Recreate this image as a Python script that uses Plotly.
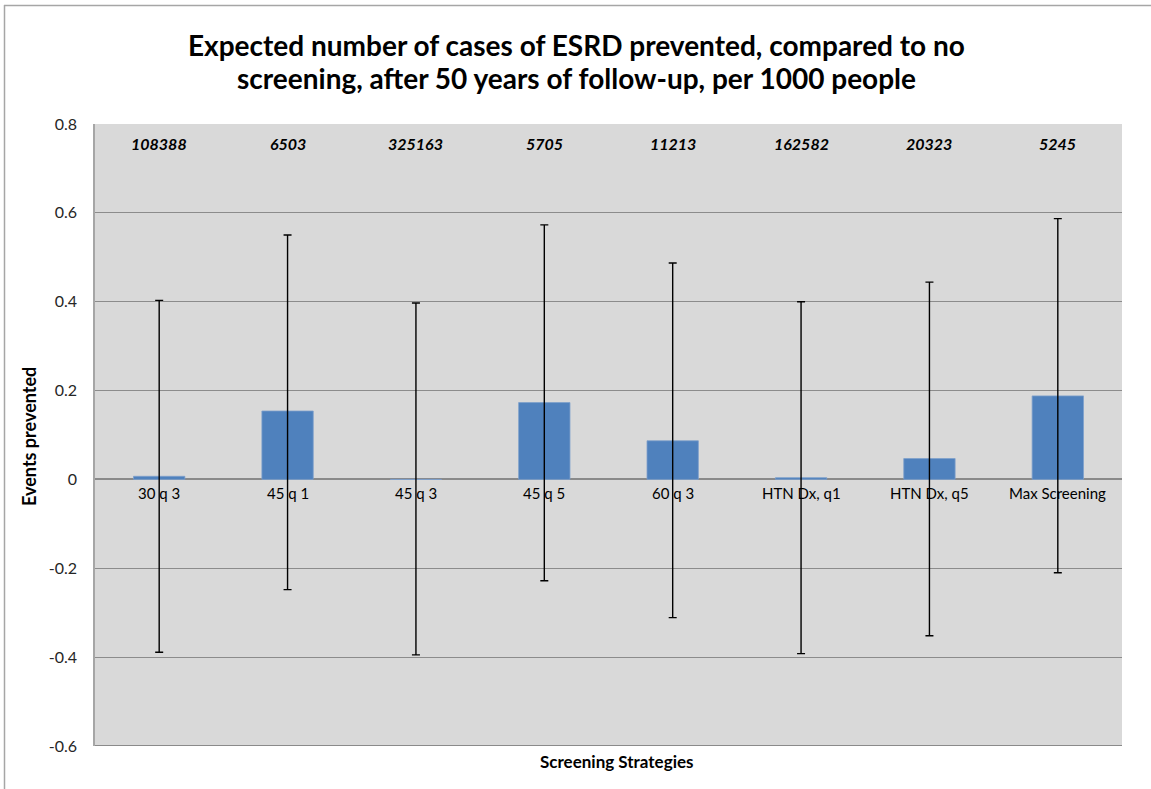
import plotly.graph_objects as go

# Screening strategies and their expected ESRD cases prevented (per 1000 people)
strategies = ["30 q 3", "45 q 1", "45 q 3", "45 q 5", "60 q 3",
              "HTN Dx, q1", "HTN Dx, q5", "Max Screening"]
prevented = [0.007, 0.154, 0.0, 0.173, 0.087, 0.004, 0.047, 0.188]
upper_bound = [0.403, 0.550, 0.397, 0.573, 0.487, 0.400, 0.444, 0.587]
lower_bound = [-0.389, -0.248, -0.395, -0.228, -0.311, -0.392, -0.352, -0.210]
count_labels = ["108388", "6503", "325163", "5705", "11213", "162582", "20323", "5245"]
y_ticks = [-0.6, -0.4, -0.2, 0.0, 0.2, 0.4, 0.6, 0.8]
y_tick_text = ["-0.6", "-0.4", "-0.2", "0", "0.2", "0.4", "0.6", "0.8"]
title_lines = ["Expected number of cases of ESRD prevented, compared to no",
               "screening, after 50 years of follow-up, per 1000 people"]

W, H = 1151, 789
ML, MR, MT, MB = 95, 29, 124, 43
PW, PH = W - ML - MR, H - MT - MB

def px_x(px):
    return (px - ML) / PW

def px_y(py):
    return (H - MB - py) / PH

FONT = "Lato"

err_plus = [u - v for u, v in zip(upper_bound, prevented)]
err_minus = [v - l for v, l in zip(prevented, lower_bound)]

fig = go.Figure()
fig.add_trace(go.Bar(
    x=strategies,
    y=prevented,
    marker=dict(color="#4F81BD", line=dict(color="#7E9FCB", width=0.8)),
    error_y=dict(type="data", symmetric=False, array=err_plus, arrayminus=err_minus,
                 color="#000000", thickness=1.4, width=4),
    hoverinfo="skip",
))

annotations = []
# category names just below the zero line
for s in strategies:
    annotations.append(dict(x=s, y=0, xref="x", yref="y", text=s, showarrow=False,
                            yanchor="top", yshift=-3,
                            font=dict(family=FONT, size=15, color="#000000")))
# counts across the top of the plot
for s, c in zip(strategies, count_labels):
    annotations.append(dict(x=s, y=0.8, xref="x", yref="y", text=f"<b><i>{c}</i></b>",
                            showarrow=False, yanchor="top", yshift=-8,
                            font=dict(family=FONT, size=16, color="#000000")))

for line, py in zip(title_lines, [45, 78]):
    annotations.append(dict(x=px_x(576.5), y=px_y(py), xref="paper", yref="paper",
                            text=f"<b>{line}</b>", showarrow=False,
                            xanchor="center", yanchor="middle",
                            font=dict(family=FONT, size=28, color="#000000")))
annotations.append(dict(x=px_x(617), y=px_y(761), xref="paper", yref="paper",
                        text="<b>Screening Strategies</b>", showarrow=False,
                        xanchor="center", yanchor="middle",
                        font=dict(family=FONT, size=17, color="#000000")))
annotations.append(dict(x=px_x(29), y=px_y(437), xref="paper", yref="paper",
                        text="<b>Events prevented</b>", showarrow=False, textangle=-90,
                        xanchor="center", yanchor="middle",
                        font=dict(family=FONT, size=18, color="#000000")))

shapes = [
    # chart frame (left and top edges)
    dict(type="line", xref="paper", yref="paper", x0=px_x(4.5), x1=px_x(4.5),
         y0=px_y(5), y1=px_y(789), line=dict(color="#A6A6A6", width=1.5)),
    dict(type="line", xref="paper", yref="paper", x0=px_x(4), x1=px_x(1151),
         y0=px_y(5.5), y1=px_y(5.5), line=dict(color="#A6A6A6", width=1.5)),
    # bottom edge of the plot area
    dict(type="line", xref="paper", yref="y", x0=0, x1=1, y0=-0.6, y1=-0.6,
         line=dict(color="#8A8A8A", width=2)),
]

fig.update_layout(
    width=W, height=H,
    margin=dict(l=ML, r=MR, t=MT, b=MB, autoexpand=False),
    paper_bgcolor="#FFFFFF",
    plot_bgcolor="#D9D9D9",
    showlegend=False,
    bargap=0.6,
    annotations=annotations,
    shapes=shapes,
    xaxis=dict(showticklabels=False, ticks="", showgrid=False, zeroline=False,
               showline=False, range=[-0.5, 7.5], automargin=False),
    yaxis=dict(range=[-0.6, 0.8], tickmode="array", tickvals=y_ticks, ticktext=y_tick_text,
               showgrid=True, gridcolor="#8C8C8C", gridwidth=1,
               zeroline=True, zerolinecolor="#8A8A8A", zerolinewidth=2,
               showline=True, linecolor="#A6A6A6", linewidth=1.5, mirror=False,
               ticks="", ticklabelstandoff=13, automargin=False,
               tickfont=dict(family=FONT, size=16, color="#262626")),
)

fig.write_html("out.html")
